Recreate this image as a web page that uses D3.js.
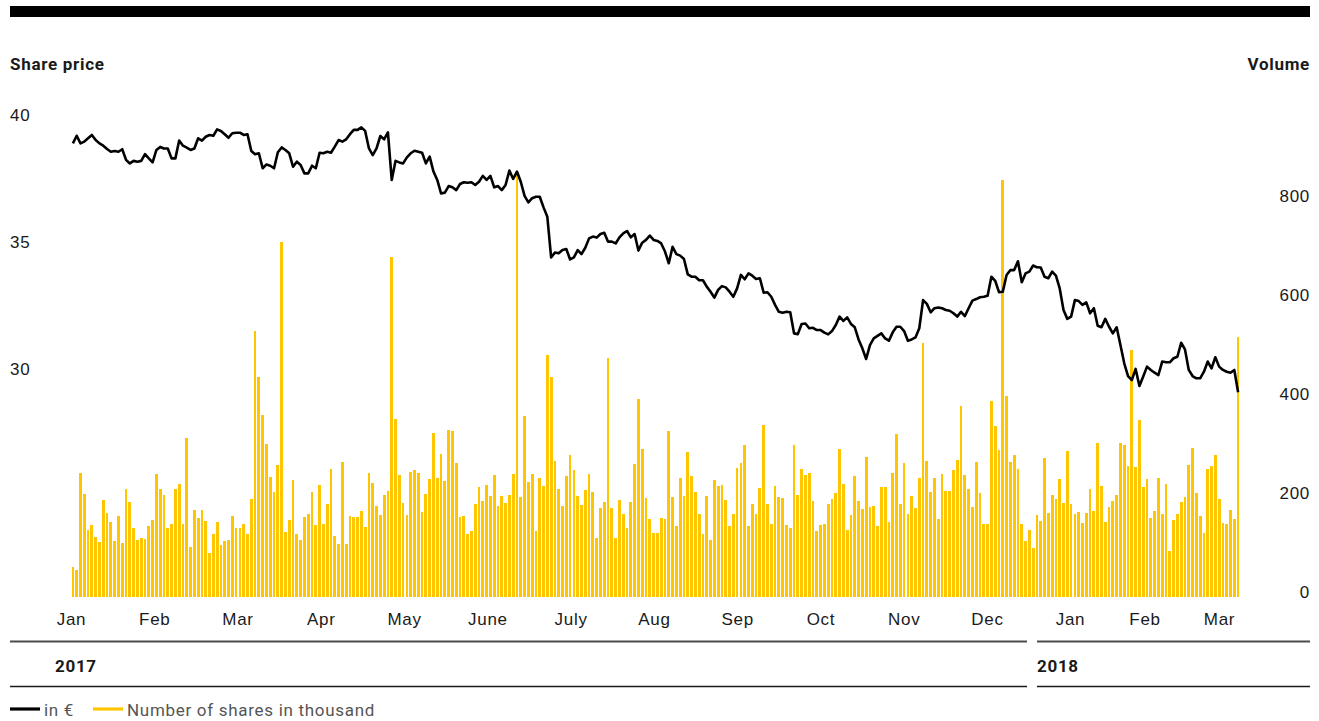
<!DOCTYPE html>
<html>
<head>
<meta charset="utf-8">
<script src="https://cdn.jsdelivr.net/npm/d3@7"></script>
<style>
  body { margin: 0; background: #fff; }
  svg { display: block; font-family: Roboto, "DejaVu Sans", sans-serif; letter-spacing: 0.7px; }
</style>
</head>
<body>
<svg id="chart" width="1319" height="721"></svg>
<script>
// Month labels per year
const months2017 = ["Jan", "Feb", "Mar", "Apr", "May", "June", "July", "Aug", "Sep", "Oct", "Nov", "Dec"];
const months2018 = ["Jan", "Feb", "Mar"];
const years = ["2017", "2018"];

// Axis ticks
const priceTicks = [30, 35, 40];
const volumeTicks = [0, 200, 400, 600, 800];

// Daily trading volume (thousand shares), Jan 2017 – mid-March 2018
const volumes = [
  61, 55, 250, 208, 135, 145, 121, 111, 196, 170,
  152, 113, 164, 109, 218, 192, 139, 115, 119, 117,
  143, 156, 248, 218, 206, 139, 147, 218, 228, 147,
  321, 101, 176, 160, 176, 154, 89, 127, 152, 105,
  113, 115, 164, 139, 139, 147, 127, 198, 537, 444,
  368, 309, 242, 212, 267, 717, 131, 156, 236, 127,
  115, 162, 168, 212, 145, 226, 147, 188, 259, 123,
  107, 273, 107, 164, 162, 162, 174, 141, 250, 230,
  184, 166, 206, 214,
  687, 360, 246, 190, 166, 253, 257, 251, 172, 208,
  238, 331, 240, 289, 234, 337, 335, 271, 162, 164,
  127, 133, 188, 222, 194, 226, 204, 246, 184, 204,
  190, 206, 248, 853, 202, 366, 232, 248, 133, 240,
  224, 489, 444, 275, 218, 184, 244, 287, 257, 204,
  186, 216, 248, 212, 119, 180, 192, 483, 180, 119,
  196, 168, 139, 192, 269, 400, 299, 200, 158, 129,
  129, 160, 158, 335, 202, 143, 240, 204, 293, 244,
  212, 168, 127, 204,
  115, 236, 224, 226, 196, 143, 168, 261, 271, 307,
  143, 188, 168, 220, 347, 188, 147, 224, 202, 200,
  145, 139, 307, 206, 259, 246, 251, 194, 133, 145,
  147, 188, 198, 210, 299, 228, 135, 166, 244, 194,
  178, 283, 182, 184, 143, 222, 222, 152, 251, 329,
  188, 271, 168, 204, 180, 240, 513, 275, 212, 240,
  158, 248, 214, 214, 257, 277, 386, 246, 218, 182,
  273, 210, 147, 147, 396, 345, 297, 842, 406, 273,
  287, 259, 147, 113, 135,
  99, 166, 154, 281, 170, 206, 198, 238, 190, 295,
  188, 168, 172, 149, 170, 218, 174, 311, 224, 152,
  182, 194, 206, 311, 307, 265, 499, 263, 358, 222,
  238, 160, 174, 240, 168, 228, 93, 156, 168, 192,
  202, 267, 301, 210, 164, 129, 259, 265, 287, 198,
  149, 147, 176, 158, 525
];

// Daily closing share price in €
const prices = [
  39.08, 39.38, 39.08, 39.15, 39.28, 39.41, 39.21, 39.08, 38.99, 38.86,
  38.75, 38.78, 38.75, 38.85, 38.43, 38.29, 38.39, 38.36, 38.39, 38.66,
  38.49, 38.33, 38.82, 38.94, 38.88, 38.88, 38.49, 38.49, 39.19, 38.99,
  38.91, 38.82, 38.88, 39.28, 39.19, 39.34, 39.41, 39.38, 39.63, 39.57,
  39.44, 39.30, 39.48, 39.50, 39.50, 39.41, 39.44, 38.78, 38.65, 38.69,
  38.10, 38.25, 38.20, 38.10, 38.73, 38.92, 38.82, 38.69, 38.16, 38.36,
  38.23, 37.90, 37.90, 38.20, 38.10, 38.71, 38.69, 38.75, 38.71, 38.95,
  39.21, 39.15, 39.24, 39.44, 39.61, 39.61, 39.71, 39.57, 38.88, 38.62,
  38.88, 39.37, 39.24, 39.51,
  37.64, 38.39, 38.33, 38.29, 38.53, 38.69, 38.79, 38.75, 38.71, 38.29,
  38.56, 37.97, 37.64, 37.11, 37.14, 37.40, 37.35, 37.24, 37.48, 37.55,
  37.53, 37.55, 37.44, 37.57, 37.80, 37.64, 37.80, 37.35, 37.40, 37.24,
  37.44, 38.01, 37.68, 37.97, 37.57, 37.01, 36.76, 36.92, 36.98, 36.98,
  36.56, 36.19, 34.59, 34.78, 34.75, 34.88, 34.92, 34.51, 34.59, 34.88,
  34.72, 34.97, 35.34, 35.41, 35.37, 35.51, 35.56, 35.21, 35.21, 35.14,
  35.38, 35.54, 35.63, 35.38, 35.51, 34.86, 35.17, 35.28, 35.45, 35.28,
  35.24, 35.14, 34.82, 34.36, 35.01, 34.72, 34.66, 34.53, 33.92, 33.83,
  33.83, 33.69, 33.69, 33.44,
  33.24, 33.01, 33.31, 33.46, 33.41, 33.24, 33.04, 33.37, 33.90, 33.73,
  33.96, 33.87, 33.74, 33.77, 33.20, 33.22, 33.04, 32.72, 32.45, 32.41,
  32.45, 32.43, 31.60, 31.57, 31.97, 31.99, 31.80, 31.82, 31.73, 31.73,
  31.63, 31.56, 31.69, 31.93, 32.26, 32.09, 32.23, 31.97, 31.84, 31.36,
  31.01, 30.59, 31.14, 31.40, 31.50, 31.60, 31.40, 31.31, 31.64, 31.86,
  31.86, 31.69, 31.31, 31.36, 31.44, 31.80, 32.91, 32.76, 32.43, 32.59,
  32.62, 32.59, 32.52, 32.49, 32.39, 32.26, 32.45, 32.28, 32.59, 32.89,
  32.95, 33.02, 33.04, 33.08, 33.83, 33.67, 33.22, 33.24, 33.90, 34.09,
  34.09, 34.44, 33.61, 33.96, 34.03,
  34.27, 34.20, 34.19, 33.83, 33.77, 34.03, 33.87, 33.37, 32.52, 32.17,
  32.26, 32.91, 32.87, 32.72, 32.82, 32.39, 32.59, 31.90, 31.84, 32.17,
  31.86, 31.60, 31.84, 31.14, 30.42, 29.92, 29.76, 30.20, 29.53, 29.90,
  30.29, 30.16, 30.05, 29.96, 30.49, 30.46, 30.46, 30.62, 30.68, 31.23,
  30.97, 30.16, 29.92, 29.83, 29.83, 30.09, 30.49, 30.22, 30.66, 30.29,
  30.16, 30.09, 30.05, 30.16, 29.28
];

const tradingDays = d3.range(volumes.length);

const svg = d3.select("#chart");
const textColor = "#1a1a1a";
const barColor = "#ffc600";
const fontSize = 17;

// Scales
const x = d3.scaleBand().domain(tradingDays).range([71, 1240]).paddingInner(0.27).paddingOuter(0.135);
const yVol = d3.scaleLinear().domain([0, 800]).range([597, 201]);
const yPrice = d3.scaleLinear().domain([30, 40]).range([374, 120]);
const xMonths2017 = d3.scalePoint().domain(months2017).range([71, 987]);
const xMonths2018 = d3.scalePoint().domain(months2018).range([1070, 1219]);

// Top rule
svg.append("rect").attr("x", 10).attr("y", 6).attr("width", 1300).attr("height", 11).attr("fill", "#000");

// Axis titles
svg.append("text").attr("x", 10).attr("y", 70).attr("font-size", fontSize).attr("font-weight", 700)
  .attr("fill", textColor).text("Share price");
svg.append("text").attr("x", 1310).attr("y", 70).attr("text-anchor", "end").attr("font-size", fontSize)
  .attr("font-weight", 700).attr("fill", textColor).text("Volume");

// Value axes (labels only)
function styleAxis(g) {
  g.select(".domain").remove();
  g.selectAll(".tick line").remove();
  g.selectAll(".tick text").attr("font-size", fontSize).attr("fill", textColor)
    .attr("font-family", null).attr("y", -5);
}
svg.append("g").attr("transform", "translate(10,0)")
  .call(d3.axisRight(yPrice).tickValues(priceTicks).tickSize(0).tickPadding(0))
  .call(styleAxis)
  .call(g => g.selectAll(".tick text").attr("text-anchor", "start"));
svg.append("g").attr("transform", "translate(1310,0)")
  .call(d3.axisLeft(yVol).tickValues(volumeTicks).tickSize(0).tickPadding(0))
  .call(styleAxis)
  .call(g => g.selectAll(".tick text").attr("text-anchor", "end"));

// Volume bars
svg.append("g").attr("shape-rendering", "crispEdges")
  .selectAll("rect").data(tradingDays).join("rect")
  .attr("x", d => x(d))
  .attr("width", x.bandwidth())
  .attr("y", d => yVol(volumes[d]))
  .attr("height", d => yVol(0) - yVol(volumes[d]))
  .attr("fill", barColor);

// Share price line
const line = d3.line()
  .x(d => x(d) + x.bandwidth() / 2)
  .y(d => yPrice(prices[d]));
svg.append("path").datum(tradingDays)
  .attr("d", line)
  .attr("fill", "none")
  .attr("stroke", "#000")
  .attr("stroke-width", 2.6)
  .attr("stroke-linejoin", "round");

// Month axes
function styleMonthAxis(g) {
  g.select(".domain").remove();
  g.selectAll(".tick line").remove();
  g.selectAll(".tick text").attr("font-size", fontSize).attr("fill", textColor).attr("font-family", null);
}
svg.append("g").attr("transform", "translate(0,613)")
  .call(d3.axisBottom(xMonths2017).tickSize(0).tickPadding(0)).call(styleMonthAxis);
svg.append("g").attr("transform", "translate(0,613)")
  .call(d3.axisBottom(xMonths2018).tickSize(0).tickPadding(0)).call(styleMonthAxis);

// Year separators and labels
const yearSpans = [[10, 1027], [1037, 1310]];
yearSpans.forEach(([a, b]) => {
  svg.append("line").attr("x1", a).attr("x2", b).attr("y1", 641.5).attr("y2", 641.5)
    .attr("stroke", "#4d4d4d").attr("stroke-width", 1.8);
  svg.append("line").attr("x1", a).attr("x2", b).attr("y1", 686.5).attr("y2", 686.5)
    .attr("stroke", "#1a1a1a").attr("stroke-width", 1.4);
});
svg.append("text").attr("x", 55).attr("y", 672).attr("font-size", fontSize).attr("font-weight", 700)
  .attr("fill", textColor).text(years[0]);
svg.append("text").attr("x", 1037).attr("y", 672).attr("font-size", fontSize).attr("font-weight", 700)
  .attr("fill", textColor).text(years[1]);

// Legend
const legend = [
  { label: "in €", color: "#000", x: 10 },
  { label: "Number of shares in thousand", color: barColor, x: 93 }
];
legend.forEach(l => {
  svg.append("line").attr("x1", l.x).attr("x2", l.x + 30).attr("y1", 709).attr("y2", 709)
    .attr("stroke", l.color).attr("stroke-width", 3.2);
  svg.append("text").attr("x", l.x + 34).attr("y", 716).attr("font-size", fontSize)
    .attr("fill", "#555").text(l.label);
});
</script>
</body>
</html>
